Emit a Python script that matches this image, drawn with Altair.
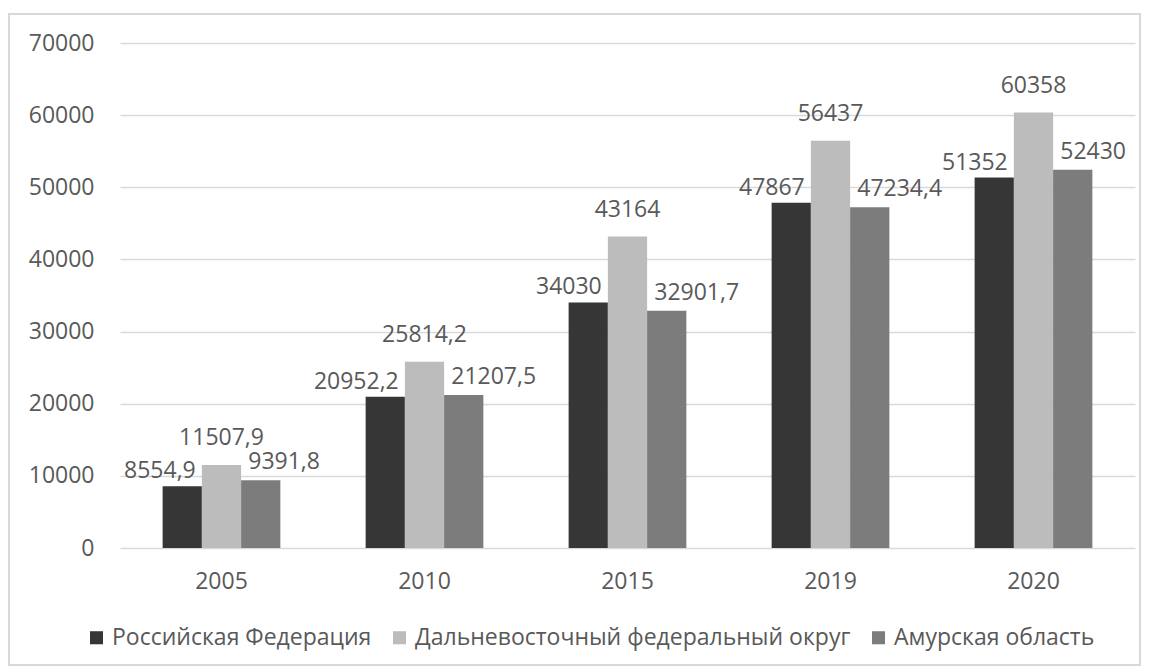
import altair as alt
import pandas as pd

years = ["2005", "2010", "2015", "2019", "2020"]
series = ["Российская Федерация", "Дальневосточный федеральный округ", "Амурская область"]
rf = [8554.9, 20952.2, 34030, 47867, 51352]
dfo = [11507.9, 25814.2, 43164, 56437, 60358]
amur = [9391.8, 21207.5, 32901.7, 47234.4, 52430]
labels_rf = ["8554,9", "20952,2", "34030", "47867", "51352"]
labels_dfo = ["11507,9", "25814,2", "43164", "56437", "60358"]
labels_amur = ["9391,8", "21207,5", "32901,7", "47234,4", "52430"]
y_ticks = [0, 10000, 20000, 30000, 40000, 50000, 60000, 70000]

rows = []
for s, vals, labs in zip(series, [rf, dfo, amur], [labels_rf, labels_dfo, labels_amur]):
    for y, v, l in zip(years, vals, labs):
        rows.append({"year": y, "series": s, "value": v, "label": l})
df = pd.DataFrame(rows)

FONT = "Open Sans"
TXT = "#595959"
FS = 23

x_enc = alt.X("year:N", sort=years, title=None,
              scale=alt.Scale(paddingInner=0.42, paddingOuter=0.21),
              axis=alt.Axis(labelAngle=0, domain=False, ticks=False, labelPadding=22,
                            labelFont=FONT, labelFontSize=FS, labelColor=TXT))
xo = alt.XOffset("series:N", sort=series, scale=alt.Scale(paddingInner=0, paddingOuter=0))
y_enc = alt.Y("value:Q", title=None,
              scale=alt.Scale(domain=[0, 70000], nice=False),
              axis=alt.Axis(values=y_ticks, format="d", domain=False, ticks=False, labelPadding=26,
                            labelFont=FONT, labelFontSize=FS, labelColor=TXT,
                            gridColor="#d9d9d9", gridWidth=1.3))

color = alt.Color("series:N", sort=series, title=None,
                  scale=alt.Scale(domain=series, range=["#363636", "#bcbcbc", "#7c7c7c"]),
                  legend=alt.Legend(orient="none", direction="horizontal", legendX=-35, legendY=583,
                                    symbolType="square", symbolSize=170, symbolStrokeWidth=0,
                                    labelFont=FONT, labelFontSize=FS, labelColor=TXT, labelLimit=0,
                                    columnPadding=16, labelOffset=4, columns=3))

bars = alt.Chart(df).mark_bar().encode(x=x_enc, xOffset=xo, y=y_enc, color=color)

def lab(name, align, dx, dy):
    return alt.Chart(df[df["series"] == name]).mark_text(
        align=align, dx=dx, dy=dy, baseline="alphabetic", font=FONT, fontSize=FS, color=TXT
    ).encode(x=alt.X("year:N", sort=years), xOffset=alt.XOffset("series:N", sort=series),
             y="value:Q", text="label:N")

border = alt.Chart(df).mark_rect(fill=None, stroke="#d9d9d9", strokeWidth=1.3).encode(
    x=alt.value(-111), x2=alt.value(1015 + 5), y=alt.value(-29), y2=alt.value(505 + 117))

chart = alt.layer(
    bars,
    lab(series[0], "right", 13.5, -8),
    lab(series[1], "center", 0, -20),
    lab(series[2], "left", -12.5, -11),
    border,
).properties(
    width=1015, height=505,
    padding={"left": 112, "top": 35, "right": 6, "bottom": 122},
    autosize=alt.AutoSizeParams(type="none"),
).configure_view(stroke=None)

chart.save("out.html", embed_options={"renderer": "svg", "actions": False})
